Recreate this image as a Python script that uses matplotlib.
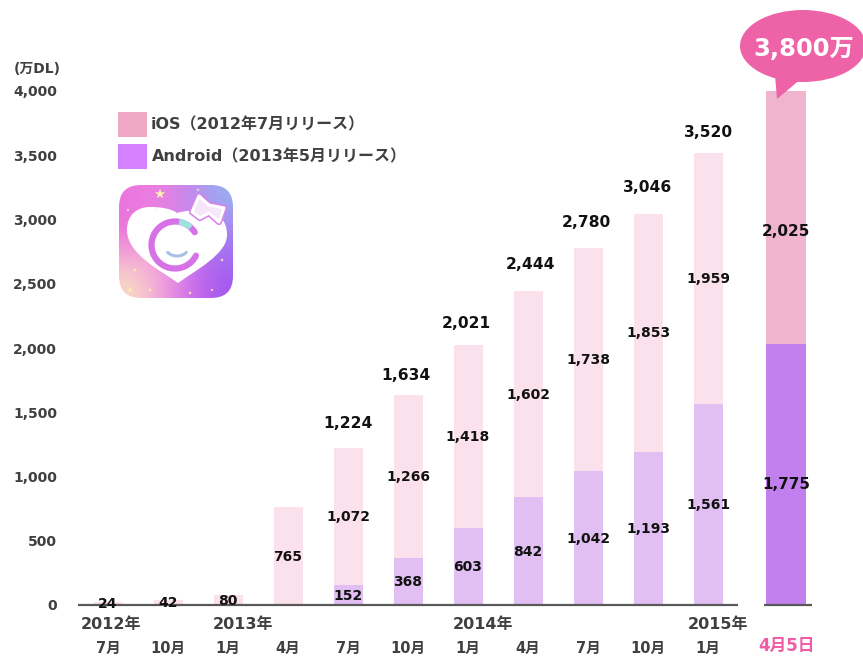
import numpy as np
import matplotlib
matplotlib.use('Agg')
import matplotlib.pyplot as plt
from matplotlib.colors import to_rgb
from matplotlib.patches import Arc, Ellipse, FancyBboxPatch, PathPatch, Polygon, Rectangle
from matplotlib.path import Path

plt.rcParams['font.family'] = ['DejaVu Sans', 'Noto Sans CJK JP']
plt.rcParams['font.weight'] = 'bold'

months = ['7月', '10月', '1月', '4月', '7月', '10月', '1月', '4月', '7月', '10月', '1月']
ios = [24, 42, 80, 765, 1072, 1266, 1418, 1602, 1738, 1853, 1959]
android = [0, 0, 0, 0, 152, 368, 603, 842, 1042, 1193, 1561]
totals = [1224, 1634, 2021, 2444, 2780, 3046, 3520]
yticks = [0, 500, 1000, 1500, 2000, 2500, 3000, 3500, 4000]

# the last bar is not to scale in the original: drawn height differs from its label
last_label = '4月5日'
last_ios_drawn = 1970
last_android_drawn = 2030
last_ios = 2025
last_android = 1775
last_total = '3,800万'

years = ['2012年', '2013年', '2014年', '2015年']
year_px = [111, 243, 483, 718]
total_gap_px = [24, 20, 22, 26, 25, 26, 20]
total_shift_px = [0, -2, -2, 2, -2, 0, 0]

W, H = 863, 656
fig = plt.figure(figsize=(W / 100, H / 100), dpi=100)

# main axes: y=0 at pixel 605, y=4000 at pixel 91, bars 60 px apart from pixel 108
ax = fig.add_axes([78 / W, (H - 605) / H, (812 - 78) / W, 514 / H])
x = np.arange(len(months))
last_x = 11.3
bw = 29 / 60
ax.bar(x, android, bw, color='#E1BFF3')
ax.bar(x, ios, bw, bottom=android, color='#FBE1EC')
ax.bar(last_x, last_android_drawn, 40 / 60, color='#C280EE')
ax.bar(last_x, last_ios_drawn, 40 / 60, bottom=last_android_drawn, color='#F0B4CF')
ax.set_xlim(-0.5, 11.733)
ax.set_ylim(0, 4000)
for s in ax.spines.values():
    s.set_visible(False)
ax.set_yticks(yticks)
ax.set_yticklabels([f'{v:,}' for v in yticks], fontsize=10, color='#404040')
ax.tick_params(axis='y', length=0, pad=15)
ax.set_xticks(x)
ax.set_xticklabels(months, fontsize=10.5, color='#404040')
ax.tick_params(axis='x', length=0, pad=26)
ax.hlines(0, -0.5, 10.5, color='#595959', lw=1.6, zorder=3, clip_on=False)
ax.hlines(0, 10.93, 11.73, color='#595959', lw=1.6, zorder=3, clip_on=False)

label_drop = 6  # labels sit a little under the segment middle
for i in x:
    if android[i]:
        ax.text(i, android[i] / 2 - label_drop, f'{android[i]:,}', ha='center', va='center', fontsize=10,
                color='#111111', zorder=4)
    ax.text(i, android[i] + ios[i] / 2 - label_drop, f'{ios[i]:,}', ha='center', va='center', fontsize=10,
            color='#111111', zorder=4, clip_on=False)
for i, t in enumerate(totals):
    top = android[i + 4] + ios[i + 4]
    ax.annotate(f'{t:,}', (i + 4, top), xytext=(total_shift_px[i] * 0.72, total_gap_px[i] * 0.72),
                textcoords='offset points', ha='center', va='center', fontsize=11.2, color='#111111')
ax.text(last_x, 935, f'{last_android:,}', ha='center', va='center', fontsize=11, color='#111111')
ax.text(last_x, 2905, f'{last_ios:,}', ha='center', va='center', fontsize=11, color='#111111')

# overlay in pixel coordinates for legend, icon, callout and free text
ov = fig.add_axes([0, 0, 1, 1], zorder=3)
ov.patch.set_visible(False)
ov.axis('off')

ov.text(14, 69, '(万DL)', ha='left', va='center', fontsize=10, color='#404040')
for label, px in zip(years, year_px):
    ov.text(px, 624, label, ha='center', va='center', fontsize=11.5, color='#404040')
ov.text(786, 646, last_label, ha='center', va='center', fontsize=12, color='#F15BA6')

# legend
ov.add_patch(Rectangle((118, 112), 29, 25, color='#EFA9C5', lw=0))
ov.add_patch(Rectangle((118, 144), 29, 25, color='#D580FF', lw=0))
ov.text(151, 125, 'iOS（2012年7月リリース）', ha='left', va='center', fontsize=11.5, color='#404040')
ov.text(152, 157, 'Android（2013年5月リリース）', ha='left', va='center', fontsize=11.5, color='#404040')

# callout
ov.add_patch(Ellipse((803, 46), 126, 72, color='#EE63A8', lw=0))
ov.add_patch(Polygon([(775, 75), (777, 99), (802, 78)], color='#EE63A8', lw=0))
ov.text(804, 49, last_total, ha='center', va='center', fontsize=17.5, color='white')

# app icon
grad = ['#EA78E0', '#EC80E0', '#C088F0', '#98B0F0',
        '#E870D8', '#EE88E4', '#D07CEE', '#A888F0',
        '#F4A8D8', '#F0A0E0', '#D070F0', '#A070F0',
        '#F8DCC4', '#F4A0DC', '#D070E8', '#A458F0']
grad_img = np.array([to_rgb(c) for c in grad]).reshape(4, 4, 3)
im = ov.imshow(grad_img, extent=(119, 233, 298, 185), interpolation='bicubic', aspect='auto')
box = FancyBboxPatch((119 + 22, 185 + 22), 114 - 44, 113 - 44, boxstyle='round,pad=22,rounding_size=22',
                     fc='none', ec='none', transform=ov.transData)
ov.add_patch(box)
im.set_clip_path(box)

heart = Path([(178, 283), (160, 270), (127, 254), (127, 230), (127, 214), (138, 207), (150, 207),
              (162, 207), (172, 209), (177, 213), (187, 210), (200, 209), (212, 213),
              (222, 215), (227, 224), (227, 235), (227, 254), (196, 270), (178, 283)],
             [Path.MOVETO] + [Path.CURVE4] * 18)
ov.add_patch(PathPatch(heart, fc='white', ec='none'))
ov.add_patch(Arc((175, 245), 47, 47, theta1=27, theta2=327, color='#D672E6', lw=4.5, capstyle='round'))
ov.add_patch(Arc((175, 245), 47, 47, theta1=280, theta2=312, color='#9FE0E0', lw=4.5))
ov.add_patch(Arc((177, 248), 22, 16, theta1=25, theta2=155, color='#A8C0E8', lw=2.2, capstyle='round'))
bow_pts = [(192, 212), (199, 196), (209, 205), (224, 208), (219, 222), (209, 213), (200, 218)]
ov.add_patch(Polygon(bow_pts, fc='none', ec='#D884EC', lw=4.5, joinstyle='round'))
ov.add_patch(Polygon(bow_pts, fc='#F6E6FA', ec='white', lw=2.2, joinstyle='round'))
ov.scatter([160, 128, 135, 198, 222, 130, 190, 150, 155, 212], [194, 210, 270, 190, 260, 290, 293, 290, 210, 290],
           s=[60, 6, 10, 6, 8, 14, 8, 10, 5, 6], c=['#FFF2B0'] * 10, marker='*', lw=0)
ov.set_xlim(0, W)
ov.set_ylim(H, 0)

fig.savefig('out.png', dpi=100)
